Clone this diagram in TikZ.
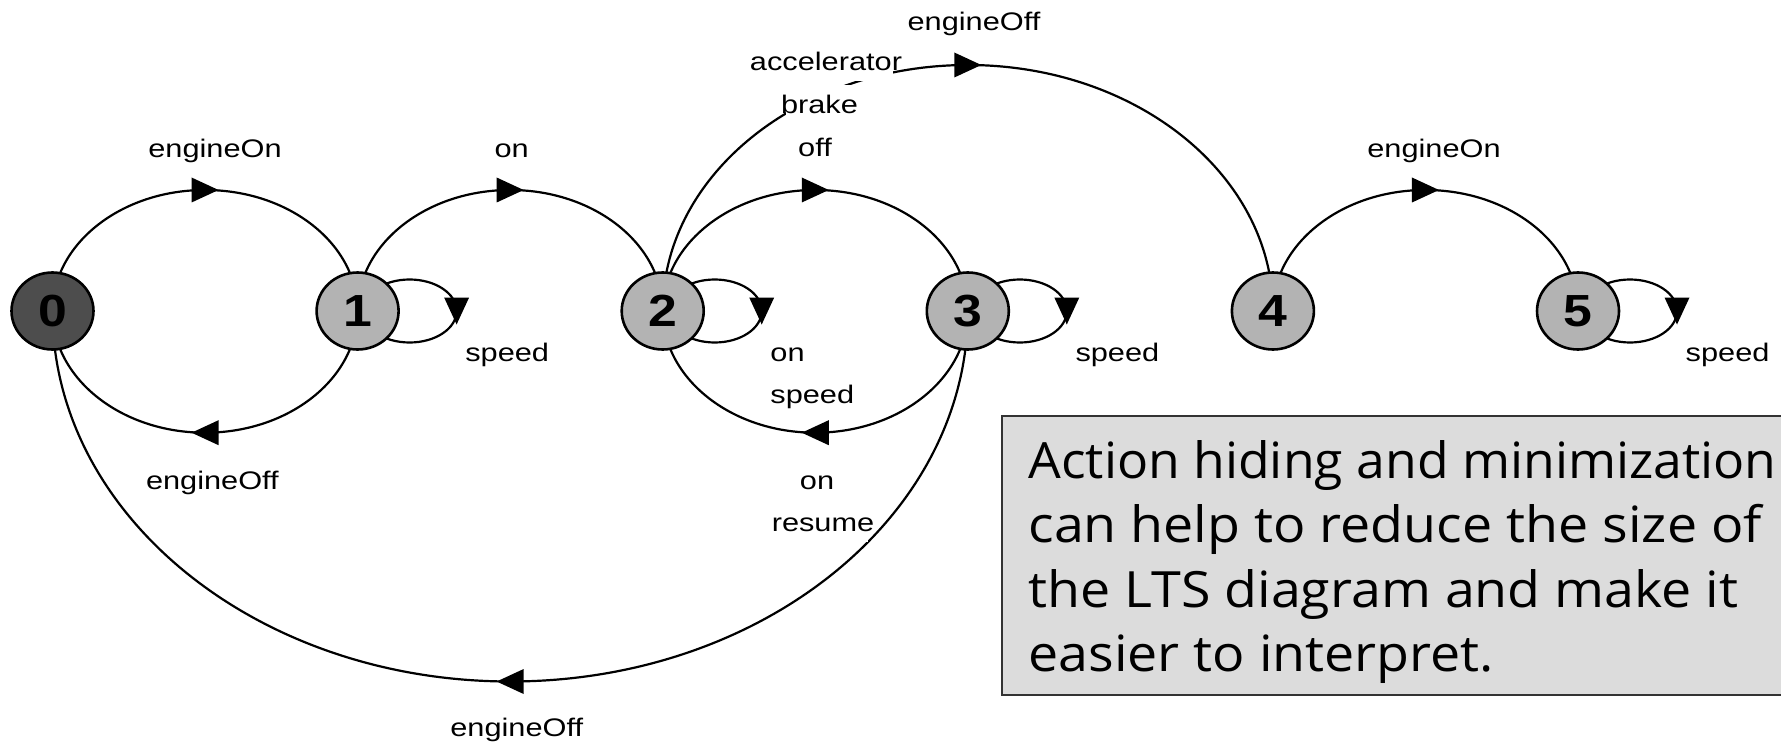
\documentclass[tikz,border=0pt]{standalone}
\usepackage{fontspec}
\usetikzlibrary{shapes.geometric,decorations.markings,backgrounds}
\newfontfamily\lblfont[FakeStretch=1.21]{Liberation Sans}
\newfontfamily\numfont[FakeStretch=1.15]{Liberation Sans}
\newfontfamily\notefont[FakeStretch=1.075]{Open Sans}
\definecolor{darkstate}{HTML}{4D4D4D}
\definecolor{lightstate}{HTML}{B3B3B3}
\definecolor{notefill}{HTML}{DCDCDC}
\definecolor{noteline}{HTML}{333333}
% label text whose white backing is a little narrower than the glyphs
\newcommand\nb[1]{\makebox[0.88\width]{#1}}
\begin{document}
\begin{tikzpicture}[x=0.5pt,y=0.5pt,
  ltsnode/.style={ellipse, draw, line width=1.3pt, fill=lightstate,
    minimum width=41pt, minimum height=38.5pt, inner sep=0pt,
    font=\numfont\bfseries\fontsize{22.5}{22.5}\selectfont},
  startnode/.style={ltsnode, fill=darkstate},
  edge/.style={line width=1.1pt, postaction={decorate, decoration={markings,
    mark=at position 0.5 with {\fill (-6.75pt,-6.25pt) -- (6.75pt,0pt) -- (-6.75pt,6.25pt) -- cycle;}}}},
  lbl/.style={font=\lblfont\fontsize{12.7}{15}\selectfont, inner sep=0pt,
    text height=14.5pt, text depth=5pt, fill=white, anchor=base},
  looplbl/.style={lbl, anchor=base west}
]
\useasboundingbox (0,0) rectangle (1781,-743);

% states
\node[startnode] (n0) at (52.5,-311) {0};
\node[ltsnode] (n1) at (357.6,-311) {1};
\node[ltsnode] (n2) at (662.7,-311) {2};
\node[ltsnode] (n3) at (967.8,-311) {3};
\node[ltsnode] (n4) at (1272.9,-311) {4};
\node[ltsnode] (n5) at (1578,-311) {5};

% transitions, kept underneath the states and labels
\begin{pgfonlayer}{background}
\draw[edge] (n0.center) arc[start angle=180, end angle=0, x radius=152.55, y radius=121];
\draw[edge] (n1.center) arc[start angle=0, end angle=-180, x radius=152.55, y radius=121.7];
\draw[edge] (n1.center) arc[start angle=180, end angle=0, x radius=152.55, y radius=121];
\draw[edge] (n2.center) arc[start angle=180, end angle=0, x radius=152.55, y radius=121];
\draw[edge] (n3.center) arc[start angle=0, end angle=-180, x radius=152.55, y radius=121.7];
\draw[edge] (n4.center) arc[start angle=180, end angle=0, x radius=152.55, y radius=121];
\draw[edge] (n2.center) arc[start angle=180, end angle=0, x radius=305.1, y radius=246];
\draw[edge] (n3.center) arc[start angle=0, end angle=-180, x radius=457.65, y radius=370.5];
% self-loops
\draw[edge] (n1.center) ++(5,0) arc[start angle=180, end angle=-180, x radius=47, y radius=31.5];
\draw[edge] (n2.center) ++(5,0) arc[start angle=180, end angle=-180, x radius=47, y radius=31.5];
\draw[edge] (n3.center) ++(5,0) arc[start angle=180, end angle=-180, x radius=47, y radius=31.5];
\draw[edge] (n5.center) ++(5,0) arc[start angle=180, end angle=-180, x radius=47, y radius=31.5];
\end{pgfonlayer}

% action labels
\node[lbl] (l01) at (215,-157.5) {\nb{engineOn}};
\node[lbl] (l10) at (212.4,-489) {\nb{engineOff}};
\node[lbl] (l12) at (511.7,-157.5) {\nb{on}};
\node[looplbl] (l11) at (464.9,-361.7) {speed};
\node[lbl] (l23a) at (826,-71) {\nb{accelerator}};
\node[lbl] (l23b) at (819.5,-114) {\nb{brake}};
\node[lbl] (l23c) at (815,-157) {\nb{off}};
\node[looplbl] (l22a) at (770,-361.7) {on};
\node[looplbl] (l22b) at (770,-403.3) {speed};
\node[lbl] (l32a) at (817,-489.3) {\nb{on}};
\node[lbl] (l32b) at (823,-531.7) {\nb{resume}};
\node[looplbl] (l33) at (1075.1,-361.7) {speed};
\node[lbl] (l24) at (974,-30.7) {\nb{engineOff}};
\node[lbl] (l45) at (1434,-157.5) {\nb{engineOn}};
\node[looplbl] (l55) at (1685.3,-361.7) {speed};
\node[lbl] (l30) at (516.7,-736.7) {\nb{engineOff}};

% note box
\draw[line width=1pt, draw=noteline, fill=notefill] (1002,-416) rectangle (1800,-695);
\node[anchor=base west, inner sep=0pt] (note) at (1028,-478)
  {\parbox[t]{440pt}{\raggedright\notefont\fontsize{25}{32.3}\selectfont
   \scalebox{0.962}[1]{Action hiding and minimization}\\
   can help to reduce the size of\\
   the LTS diagram and make it\\
   easier to interpret.}};
\end{tikzpicture}
\end{document}
